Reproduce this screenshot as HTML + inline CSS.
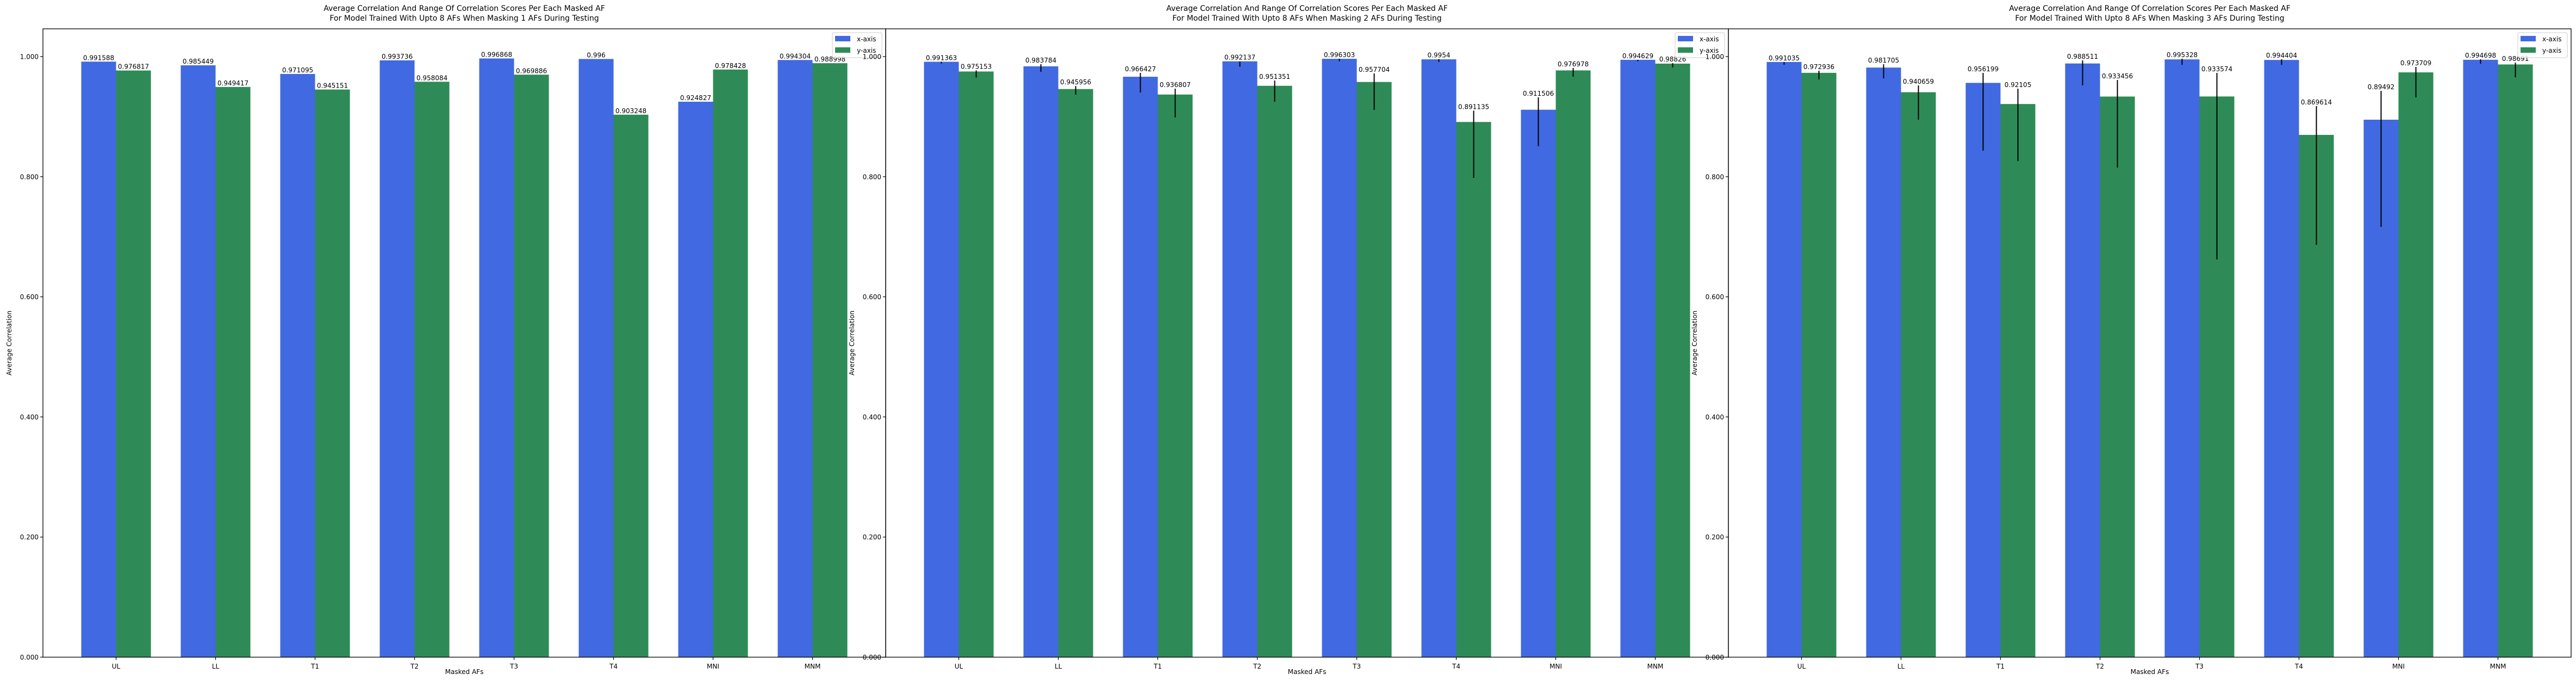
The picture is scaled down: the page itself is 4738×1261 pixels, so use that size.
<!DOCTYPE html>
<html><head><meta charset="utf-8"><style>
html,body{margin:0;padding:0;background:#fff;}
svg{display:block;font-family:"DejaVu Sans","Liberation Sans",sans-serif;}
</style></head><body>
<svg id="chart" width="4738" height="1261" viewBox="0 0 4738 1261" xmlns="http://www.w3.org/2000/svg"></svg>
<script>
const categories = ["UL","LL","T1","T2","T3","T4","MNI","MNM"];
const yTicks = [0,0.2,0.4,0.6,0.8,1.0];
const yTickLabels = ["0.000","0.200","0.400","0.600","0.800","1.000"];
const maskCounts = [1,2,3];
const p1X = [0.991588,0.985449,0.971095,0.993736,0.996868,0.996,0.924827,0.994304];
const p1Y = [0.976817,0.949417,0.945151,0.958084,0.969886,0.903248,0.978428,0.988998];
const p1XLabels = ["0.991588","0.985449","0.971095","0.993736","0.996868","0.996","0.924827","0.994304"];
const p1YLabels = ["0.976817","0.949417","0.945151","0.958084","0.969886","0.903248","0.978428","0.988998"];
const p2X = [0.991363,0.983784,0.966427,0.992137,0.996303,0.9954,0.911506,0.994629];
const p2Y = [0.975153,0.945956,0.936807,0.951351,0.957704,0.891135,0.976978,0.98826];
const p2XLabels = ["0.991363","0.983784","0.966427","0.992137","0.996303","0.9954","0.911506","0.994629"];
const p2YLabels = ["0.975153","0.945956","0.936807","0.951351","0.957704","0.891135","0.976978","0.98826"];
const p2XErrHi = [0.9915,0.9873,0.9728,0.9918,0.9964,0.9958,0.9321,0.9946];
const p2XErrLo = [0.9885,0.9746,0.9402,0.9831,0.9922,0.9912,0.8509,0.9922];
const p2YErrHi = [0.9770,0.9511,0.9466,0.9601,0.9719,0.9100,0.9810,0.9891];
const p2YErrLo = [0.9650,0.9366,0.8986,0.9248,0.9112,0.7980,0.9665,0.9819];
const p3X = [0.991035,0.981705,0.956199,0.988511,0.995328,0.994404,0.89492,0.994698];
const p3Y = [0.972936,0.940659,0.92105,0.933456,0.933574,0.869614,0.973709,0.98691];
const p3XLabels = ["0.991035","0.981705","0.956199","0.988511","0.995328","0.994404","0.89492","0.994698"];
const p3YLabels = ["0.972936","0.940659","0.92105","0.933456","0.933574","0.869614","0.973709","0.98691"];
const p3XErrHi = [0.9909,0.9873,0.9728,0.9936,0.9964,0.9955,0.9429,0.9955];
const p3XErrLo = [0.9864,0.9638,0.8433,0.9520,0.9864,0.9864,0.7165,0.9882];
const p3YErrHi = [0.9764,0.9520,0.9466,0.9610,0.9728,0.9176,0.9828,0.9900];
const p3YErrLo = [0.9620,0.8949,0.8261,0.8152,0.6621,0.6866,0.9321,0.9655];

const NS = "http://www.w3.org/2000/svg";
const svg = document.getElementById("chart");
function mk(tag, attrs, parent){
  const e = document.createElementNS(NS, tag);
  for (const k in attrs) e.setAttribute(k, attrs[k]);
  (parent||svg).appendChild(e);
  return e;
}
const TOP=53, BOT=1208, YMAX=1.0462, AXW=1550, XMIN=-0.735, XSPAN=8.47, BW=0.35;
const panels = [
  {left:79, xv:p1X, yv:p1Y, xl:p1XLabels, yl:p1YLabels, err:false},
  {left:1629, xv:p2X, yv:p2Y, xl:p2XLabels, yl:p2YLabels, err:true, xhi:p2XErrHi, xlo:p2XErrLo, yhi:p2YErrHi, ylo:p2YErrLo},
  {left:3179, xv:p3X, yv:p3Y, xl:p3XLabels, yl:p3YLabels, err:true, xhi:p3XErrHi, xlo:p3XErrLo, yhi:p3YErrHi, ylo:p3YErrLo}
];
panels.forEach((p, pi) => {
  const g = mk("g", {});
  
  
  const sx = v => p.left + (v - XMIN) / XSPAN * AXW;
  const sy = v => BOT - v / YMAX * (BOT - TOP);
  const uw = AXW / XSPAN;
  const series = [
    {vals:p.xv, labels:p.xl, color:"#4169e1", off:-BW/2, hi:p.xhi, lo:p.xlo, name:"x-axis"},
    {vals:p.yv, labels:p.yl, color:"#2e8b57", off:BW/2, hi:p.yhi, lo:p.ylo, name:"y-axis"}
  ];
  series.forEach(s => {
    s.vals.forEach((v, i) => {
      const cx = sx(i + s.off);
      const r = mk("rect", {x:cx - BW*uw/2, y:sy(v), width:BW*uw, height:sy(0)-sy(v), fill:s.color}, g);
      
      
      let topY = sy(v);
      if (p.err) {
        const l = mk("line", {x1:cx, x2:cx, y1:sy(s.hi[i]), y2:sy(s.lo[i]), stroke:"#000", "stroke-width":2}, g);
        
        
        topY = Math.min(topY, sy(s.hi[i]));
      }
      const t = mk("text", {x:cx, y:topY - 3, "text-anchor":"middle", "font-size":12, fill:"#000"}, g);
      t.textContent = s.labels[i];
      
      
    });
  });
  // axes frame
  const fr = mk("rect", {x:p.left, y:TOP, width:AXW, height:BOT-TOP, fill:"none", stroke:"#000", "stroke-width":1.3}, g);
  
  
  yTicks.forEach((v, i) => {
    mk("line", {x1:p.left-5, x2:p.left, y1:sy(v), y2:sy(v), stroke:"#000", "stroke-width":1.2}, g);
    const t = mk("text", {x:p.left-8, y:sy(v)+4.5, "text-anchor":"end", "font-size":12, fill:"#000"}, g);
    t.textContent = yTickLabels[i];
    
    
  });
  categories.forEach((c, i) => {
    mk("line", {x1:sx(i), x2:sx(i), y1:BOT, y2:BOT+5, stroke:"#000", "stroke-width":1.2}, g);
    const t = mk("text", {x:sx(i), y:BOT+21, "text-anchor":"middle", "font-size":12, fill:"#000"}, g);
    t.textContent = c;
    
    
  });
  const cxm = p.left + AXW/2;
  const xl = mk("text", {x:cxm, y:1239, "text-anchor":"middle", "font-size":12, fill:"#000"}, g);
  xl.textContent = "Masked AFs";
  
  
  const yl = mk("text", {x:0, y:0, "text-anchor":"middle", "font-size":12, fill:"#000", transform:`translate(${p.left-58},${(TOP+BOT)/2}) rotate(-90)`}, g);
  yl.textContent = "Average Correlation";
  
  
  const t1 = mk("text", {x:cxm, y:20, "text-anchor":"middle", "font-size":14, fill:"#000"}, g);
  t1.textContent = "Average Correlation And Range Of Correlation Scores Per Each Masked AF";
  
  
  const t2 = mk("text", {x:cxm, y:38, "text-anchor":"middle", "font-size":14, fill:"#000"}, g);
  t2.textContent = "For Model Trained With Upto 8 AFs When Masking " + maskCounts[pi] + " AFs During Testing";
  
  
  // legend
  const lx = p.left + AXW - 98, ly = 60;
  const lg = mk("g", {}, g);
  
  
  mk("rect", {x:lx, y:ly, width:91, height:46, rx:3, fill:"#fff", "fill-opacity":0.8, stroke:"#ccc"}, lg);
  series.forEach((s, k) => {
    const e = mk("g", {}, lg);
    
    
    mk("rect", {x:lx+5, y:ly+6+k*21, width:28, height:10, fill:s.color}, e);
    const t = mk("text", {x:lx+45, y:ly+16+k*21, "font-size":12, fill:"#000"}, e);
    t.textContent = s.name;
  });
});
</script>
</body></html>
